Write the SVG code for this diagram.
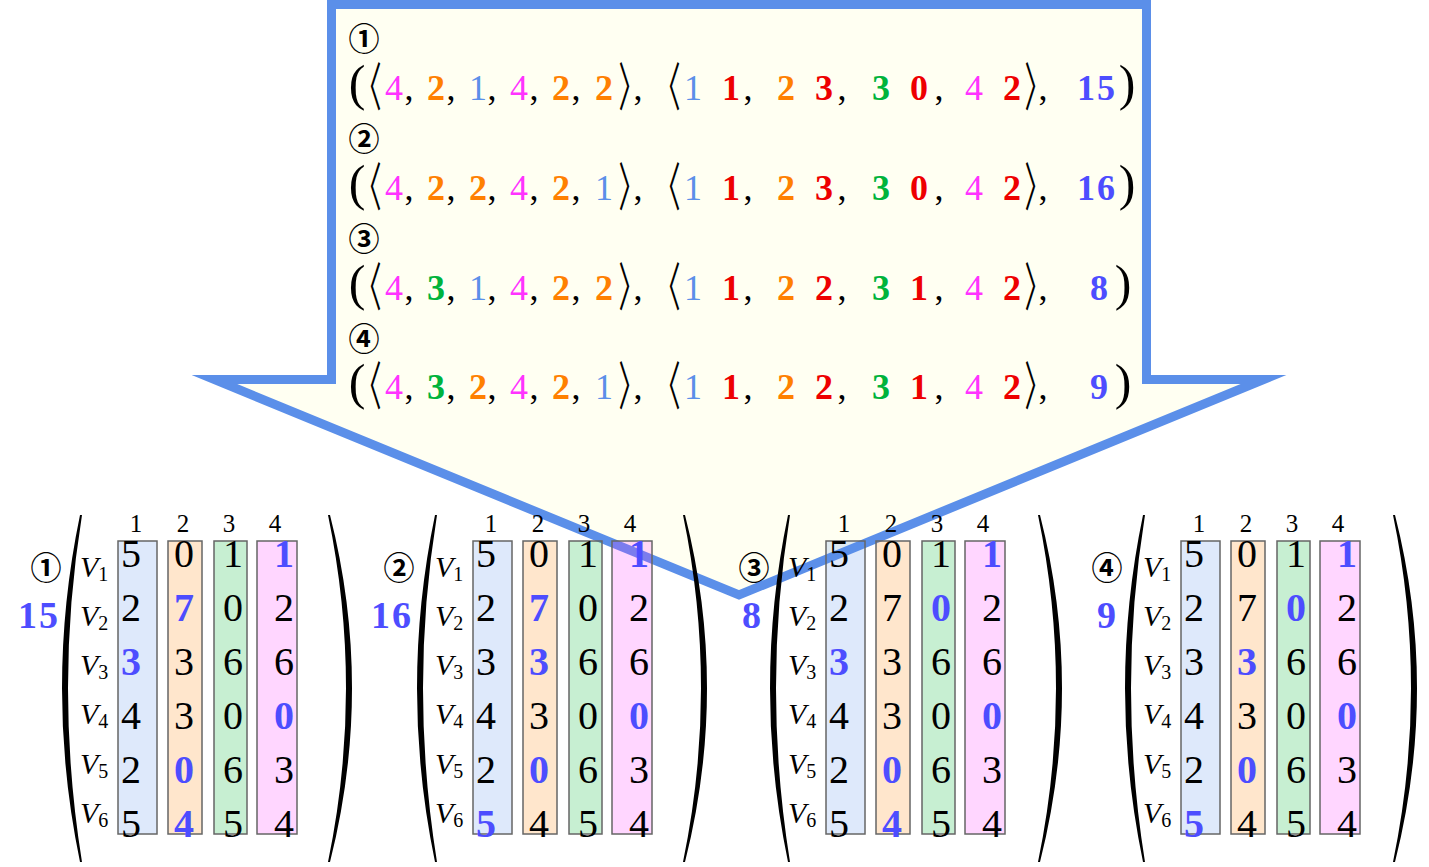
<svg xmlns="http://www.w3.org/2000/svg" width="1429" height="867" viewBox="0 0 1429 867">
<style>
.cm{font-family:"Liberation Serif","DejaVu Serif",serif;fill:#000}
.d{font-size:40px;text-anchor:middle}
.hd{font-size:25px;text-anchor:middle}
.v{font-size:30px;font-style:italic}
.sub{font-size:20px;font-style:normal}
.hl{fill:#4d4dff;font-weight:bold}
.tot{font-size:38px;font-weight:bold;fill:#4d4dff;text-anchor:end;letter-spacing:2px}
.circ{font-family:"Noto Sans CJK JP","DejaVu Sans",sans-serif;font-size:31px;font-weight:bold;text-anchor:middle;fill:#000}
.t{font-size:36px;text-anchor:middle}
.del{font-size:50px;text-anchor:middle;font-weight:normal}
.ang{font-family:"Noto Sans CJK JP","DejaVu Sans",sans-serif;font-size:52px;text-anchor:middle;fill:#000}
.m{fill:#ff33ff}.o{fill:#ff8000;font-weight:bold}.lb{fill:#5b8fe9}.g{fill:#00b33c;font-weight:bold}.r{fill:#ee0000;font-weight:bold}.bl{fill:#4d4dff;font-weight:bold}
.col{stroke:#666;stroke-width:1.5}
.c1{fill:rgba(91,143,233,0.2)}.c2{fill:rgba(255,128,0,0.2)}.c3{fill:rgba(0,184,50,0.22)}.c4{fill:rgba(255,51,255,0.2)}
.par{fill:#000}
</style>
<defs>
<path id="lp" d="M80,515 Q44,688 80,862 L82,862 Q54,688 82,515 Z"/>
<path id="rp" d="M330,515 Q374,688 330,862 L328,862 Q364,688 328,515 Z"/>
</defs>

<g id="callout">
<polygon points="331.5,4.5 1146.5,4.5 1146.5,379.5 1263.6,379.5 739,595 214.4,379.5 331.5,379.5" fill="#fffff2" stroke="#5b8fe9" stroke-width="9" stroke-linejoin="miter" stroke-miterlimit="10"/>
<text class="circ" x="364" y="50">①</text>
<text class="cm t" y="100"><tspan class="del" x="357">(</tspan><tspan class="m" x="394">4</tspan><tspan x="409">,</tspan><tspan class="o" x="436">2</tspan><tspan x="451">,</tspan><tspan class="lb" x="478">1</tspan><tspan x="492">,</tspan><tspan class="m" x="519">4</tspan><tspan x="534">,</tspan><tspan class="o" x="561">2</tspan><tspan x="576">,</tspan><tspan class="o" x="604">2</tspan><tspan x="638">,</tspan><tspan class="lb" x="693">1</tspan><tspan class="r" x="731">1</tspan><tspan x="748">,</tspan><tspan class="o" x="786">2</tspan><tspan class="r" x="824">3</tspan><tspan x="842">,</tspan><tspan class="g" x="881">3</tspan><tspan class="r" x="919" font-weight="normal">0</tspan><tspan x="939">,</tspan><tspan class="m" x="974">4</tspan><tspan class="r" x="1012">2</tspan><tspan x="1043">,</tspan><tspan class="bl" x="1097" letter-spacing="2">15</tspan><tspan class="del" x="1127">)</tspan></text>
<text class="ang" transform="translate(375,106) scale(0.5,1)" x="-13">〈</text>
<text class="ang" transform="translate(624,106) scale(0.5,1)" x="15">〉</text>
<text class="ang" transform="translate(674,106) scale(0.5,1)" x="-13">〈</text>
<text class="ang" transform="translate(1030,106) scale(0.5,1)" x="15">〉</text>
<text class="circ" x="364" y="150">②</text>
<text class="cm t" y="200"><tspan class="del" x="357">(</tspan><tspan class="m" x="394">4</tspan><tspan x="409">,</tspan><tspan class="o" x="436">2</tspan><tspan x="451">,</tspan><tspan class="o" x="478">2</tspan><tspan x="492">,</tspan><tspan class="m" x="519">4</tspan><tspan x="534">,</tspan><tspan class="o" x="561">2</tspan><tspan x="576">,</tspan><tspan class="lb" x="604">1</tspan><tspan x="638">,</tspan><tspan class="lb" x="693">1</tspan><tspan class="r" x="731">1</tspan><tspan x="748">,</tspan><tspan class="o" x="786">2</tspan><tspan class="r" x="824">3</tspan><tspan x="842">,</tspan><tspan class="g" x="881">3</tspan><tspan class="r" x="919" font-weight="normal">0</tspan><tspan x="939">,</tspan><tspan class="m" x="974">4</tspan><tspan class="r" x="1012">2</tspan><tspan x="1043">,</tspan><tspan class="bl" x="1097" letter-spacing="2">16</tspan><tspan class="del" x="1127">)</tspan></text>
<text class="ang" transform="translate(375,206) scale(0.5,1)" x="-13">〈</text>
<text class="ang" transform="translate(624,206) scale(0.5,1)" x="15">〉</text>
<text class="ang" transform="translate(674,206) scale(0.5,1)" x="-13">〈</text>
<text class="ang" transform="translate(1030,206) scale(0.5,1)" x="15">〉</text>
<text class="circ" x="364" y="250">③</text>
<text class="cm t" y="300"><tspan class="del" x="357">(</tspan><tspan class="m" x="394">4</tspan><tspan x="409">,</tspan><tspan class="g" x="436">3</tspan><tspan x="451">,</tspan><tspan class="lb" x="478">1</tspan><tspan x="492">,</tspan><tspan class="m" x="519">4</tspan><tspan x="534">,</tspan><tspan class="o" x="561">2</tspan><tspan x="576">,</tspan><tspan class="o" x="604">2</tspan><tspan x="638">,</tspan><tspan class="lb" x="693">1</tspan><tspan class="r" x="731">1</tspan><tspan x="748">,</tspan><tspan class="o" x="786">2</tspan><tspan class="r" x="824">2</tspan><tspan x="842">,</tspan><tspan class="g" x="881">3</tspan><tspan class="r" x="919">1</tspan><tspan x="939">,</tspan><tspan class="m" x="974">4</tspan><tspan class="r" x="1012">2</tspan><tspan x="1043">,</tspan><tspan class="bl" x="1099">8</tspan><tspan class="del" x="1123">)</tspan></text>
<text class="ang" transform="translate(375,306) scale(0.5,1)" x="-13">〈</text>
<text class="ang" transform="translate(624,306) scale(0.5,1)" x="15">〉</text>
<text class="ang" transform="translate(674,306) scale(0.5,1)" x="-13">〈</text>
<text class="ang" transform="translate(1030,306) scale(0.5,1)" x="15">〉</text>
<text class="circ" x="364" y="350">④</text>
<text class="cm t" y="399"><tspan class="del" x="357">(</tspan><tspan class="m" x="394">4</tspan><tspan x="409">,</tspan><tspan class="g" x="436">3</tspan><tspan x="451">,</tspan><tspan class="o" x="478">2</tspan><tspan x="492">,</tspan><tspan class="m" x="519">4</tspan><tspan x="534">,</tspan><tspan class="o" x="561">2</tspan><tspan x="576">,</tspan><tspan class="lb" x="604">1</tspan><tspan x="638">,</tspan><tspan class="lb" x="693">1</tspan><tspan class="r" x="731">1</tspan><tspan x="748">,</tspan><tspan class="o" x="786">2</tspan><tspan class="r" x="824">2</tspan><tspan x="842">,</tspan><tspan class="g" x="881">3</tspan><tspan class="r" x="919">1</tspan><tspan x="939">,</tspan><tspan class="m" x="974">4</tspan><tspan class="r" x="1012">2</tspan><tspan x="1043">,</tspan><tspan class="bl" x="1099">9</tspan><tspan class="del" x="1123">)</tspan></text>
<text class="ang" transform="translate(375,405) scale(0.5,1)" x="-13">〈</text>
<text class="ang" transform="translate(624,405) scale(0.5,1)" x="15">〉</text>
<text class="ang" transform="translate(674,405) scale(0.5,1)" x="-13">〈</text>
<text class="ang" transform="translate(1030,405) scale(0.5,1)" x="15">〉</text>
</g>

<g id="matrix-1">
<use href="#lp" class="par"/><use href="#rp" class="par"/>
<rect class="col c1" x="118" y="541" width="39" height="293"/>
<rect class="col c2" x="168" y="541" width="34" height="293"/>
<rect class="col c3" x="214" y="541" width="33" height="293"/>
<rect class="col c4" x="257" y="541" width="40" height="293"/>
<text class="cm hd" y="532"><tspan x="136">1</tspan><tspan x="183">2</tspan><tspan x="229">3</tspan><tspan x="275">4</tspan></text>
<text class="cm v" x="80" y="577">V<tspan class="sub" dy="4">1</tspan></text>
<text class="cm v" x="80" y="626">V<tspan class="sub" dy="4">2</tspan></text>
<text class="cm v" x="80" y="675">V<tspan class="sub" dy="4">3</tspan></text>
<text class="cm v" x="80" y="724">V<tspan class="sub" dy="4">4</tspan></text>
<text class="cm v" x="80" y="774">V<tspan class="sub" dy="4">5</tspan></text>
<text class="cm v" x="80" y="823">V<tspan class="sub" dy="4">6</tspan></text>
<text class="cm d" y="567"><tspan x="131">5</tspan><tspan x="184">0</tspan><tspan x="233">1</tspan><tspan class="hl" x="284">1</tspan></text>
<text class="cm d" y="621"><tspan x="131">2</tspan><tspan class="hl" x="184">7</tspan><tspan x="233">0</tspan><tspan x="284">2</tspan></text>
<text class="cm d" y="675"><tspan class="hl" x="131">3</tspan><tspan x="184">3</tspan><tspan x="233">6</tspan><tspan x="284">6</tspan></text>
<text class="cm d" y="729"><tspan x="131">4</tspan><tspan x="184">3</tspan><tspan x="233">0</tspan><tspan class="hl" x="284">0</tspan></text>
<text class="cm d" y="783"><tspan x="131">2</tspan><tspan class="hl" x="184">0</tspan><tspan x="233">6</tspan><tspan x="284">3</tspan></text>
<text class="cm d" y="837"><tspan x="131">5</tspan><tspan class="hl" x="184">4</tspan><tspan x="233">5</tspan><tspan x="284">4</tspan></text>
<text class="circ" x="46" y="579">①</text>
<text class="cm tot" x="60" y="628">15</text>
</g>

<g id="matrix-2" transform="translate(355,0)">
<use href="#lp" class="par"/><use href="#rp" class="par"/>
<rect class="col c1" x="118" y="541" width="39" height="293"/>
<rect class="col c2" x="168" y="541" width="34" height="293"/>
<rect class="col c3" x="214" y="541" width="33" height="293"/>
<rect class="col c4" x="257" y="541" width="40" height="293"/>
<text class="cm hd" y="532"><tspan x="136">1</tspan><tspan x="183">2</tspan><tspan x="229">3</tspan><tspan x="275">4</tspan></text>
<text class="cm v" x="80" y="577">V<tspan class="sub" dy="4">1</tspan></text>
<text class="cm v" x="80" y="626">V<tspan class="sub" dy="4">2</tspan></text>
<text class="cm v" x="80" y="675">V<tspan class="sub" dy="4">3</tspan></text>
<text class="cm v" x="80" y="724">V<tspan class="sub" dy="4">4</tspan></text>
<text class="cm v" x="80" y="774">V<tspan class="sub" dy="4">5</tspan></text>
<text class="cm v" x="80" y="823">V<tspan class="sub" dy="4">6</tspan></text>
<text class="cm d" y="567"><tspan x="131">5</tspan><tspan x="184">0</tspan><tspan x="233">1</tspan><tspan class="hl" x="284">1</tspan></text>
<text class="cm d" y="621"><tspan x="131">2</tspan><tspan class="hl" x="184">7</tspan><tspan x="233">0</tspan><tspan x="284">2</tspan></text>
<text class="cm d" y="675"><tspan x="131">3</tspan><tspan class="hl" x="184">3</tspan><tspan x="233">6</tspan><tspan x="284">6</tspan></text>
<text class="cm d" y="729"><tspan x="131">4</tspan><tspan x="184">3</tspan><tspan x="233">0</tspan><tspan class="hl" x="284">0</tspan></text>
<text class="cm d" y="783"><tspan x="131">2</tspan><tspan class="hl" x="184">0</tspan><tspan x="233">6</tspan><tspan x="284">3</tspan></text>
<text class="cm d" y="837"><tspan class="hl" x="131">5</tspan><tspan x="184">4</tspan><tspan x="233">5</tspan><tspan x="284">4</tspan></text>
<text class="circ" x="44" y="579">②</text>
<text class="cm tot" x="58" y="628">16</text>
</g>

<g id="matrix-3" transform="translate(708,0)">
<use href="#lp" class="par"/><use href="#rp" class="par" transform="translate(2,0)"/>
<rect class="col c1" x="118" y="541" width="39" height="293"/>
<rect class="col c2" x="168" y="541" width="34" height="293"/>
<rect class="col c3" x="214" y="541" width="33" height="293"/>
<rect class="col c4" x="257" y="541" width="40" height="293"/>
<text class="cm hd" y="532"><tspan x="136">1</tspan><tspan x="183">2</tspan><tspan x="229">3</tspan><tspan x="275">4</tspan></text>
<text class="cm v" x="80" y="577">V<tspan class="sub" dy="4">1</tspan></text>
<text class="cm v" x="80" y="626">V<tspan class="sub" dy="4">2</tspan></text>
<text class="cm v" x="80" y="675">V<tspan class="sub" dy="4">3</tspan></text>
<text class="cm v" x="80" y="724">V<tspan class="sub" dy="4">4</tspan></text>
<text class="cm v" x="80" y="774">V<tspan class="sub" dy="4">5</tspan></text>
<text class="cm v" x="80" y="823">V<tspan class="sub" dy="4">6</tspan></text>
<text class="cm d" y="567"><tspan x="131">5</tspan><tspan x="184">0</tspan><tspan x="233">1</tspan><tspan class="hl" x="284">1</tspan></text>
<text class="cm d" y="621"><tspan x="131">2</tspan><tspan x="184">7</tspan><tspan class="hl" x="233">0</tspan><tspan x="284">2</tspan></text>
<text class="cm d" y="675"><tspan class="hl" x="131">3</tspan><tspan x="184">3</tspan><tspan x="233">6</tspan><tspan x="284">6</tspan></text>
<text class="cm d" y="729"><tspan x="131">4</tspan><tspan x="184">3</tspan><tspan x="233">0</tspan><tspan class="hl" x="284">0</tspan></text>
<text class="cm d" y="783"><tspan x="131">2</tspan><tspan class="hl" x="184">0</tspan><tspan x="233">6</tspan><tspan x="284">3</tspan></text>
<text class="cm d" y="837"><tspan x="131">5</tspan><tspan class="hl" x="184">4</tspan><tspan x="233">5</tspan><tspan x="284">4</tspan></text>
<text class="circ" x="46" y="579">③</text>
<text class="cm tot" x="55" y="628">8</text>
</g>

<g id="matrix-4" transform="translate(1063,0)">
<use href="#lp" class="par"/><use href="#rp" class="par" transform="translate(2,0)"/>
<rect class="col c1" x="118" y="541" width="39" height="293"/>
<rect class="col c2" x="168" y="541" width="34" height="293"/>
<rect class="col c3" x="214" y="541" width="33" height="293"/>
<rect class="col c4" x="257" y="541" width="40" height="293"/>
<text class="cm hd" y="532"><tspan x="136">1</tspan><tspan x="183">2</tspan><tspan x="229">3</tspan><tspan x="275">4</tspan></text>
<text class="cm v" x="80" y="577">V<tspan class="sub" dy="4">1</tspan></text>
<text class="cm v" x="80" y="626">V<tspan class="sub" dy="4">2</tspan></text>
<text class="cm v" x="80" y="675">V<tspan class="sub" dy="4">3</tspan></text>
<text class="cm v" x="80" y="724">V<tspan class="sub" dy="4">4</tspan></text>
<text class="cm v" x="80" y="774">V<tspan class="sub" dy="4">5</tspan></text>
<text class="cm v" x="80" y="823">V<tspan class="sub" dy="4">6</tspan></text>
<text class="cm d" y="567"><tspan x="131">5</tspan><tspan x="184">0</tspan><tspan x="233">1</tspan><tspan class="hl" x="284">1</tspan></text>
<text class="cm d" y="621"><tspan x="131">2</tspan><tspan x="184">7</tspan><tspan class="hl" x="233">0</tspan><tspan x="284">2</tspan></text>
<text class="cm d" y="675"><tspan x="131">3</tspan><tspan class="hl" x="184">3</tspan><tspan x="233">6</tspan><tspan x="284">6</tspan></text>
<text class="cm d" y="729"><tspan x="131">4</tspan><tspan x="184">3</tspan><tspan x="233">0</tspan><tspan class="hl" x="284">0</tspan></text>
<text class="cm d" y="783"><tspan x="131">2</tspan><tspan class="hl" x="184">0</tspan><tspan x="233">6</tspan><tspan x="284">3</tspan></text>
<text class="cm d" y="837"><tspan class="hl" x="131">5</tspan><tspan x="184">4</tspan><tspan x="233">5</tspan><tspan x="284">4</tspan></text>
<text class="circ" x="44" y="579">④</text>
<text class="cm tot" x="55" y="628">9</text>
</g>
</svg>
